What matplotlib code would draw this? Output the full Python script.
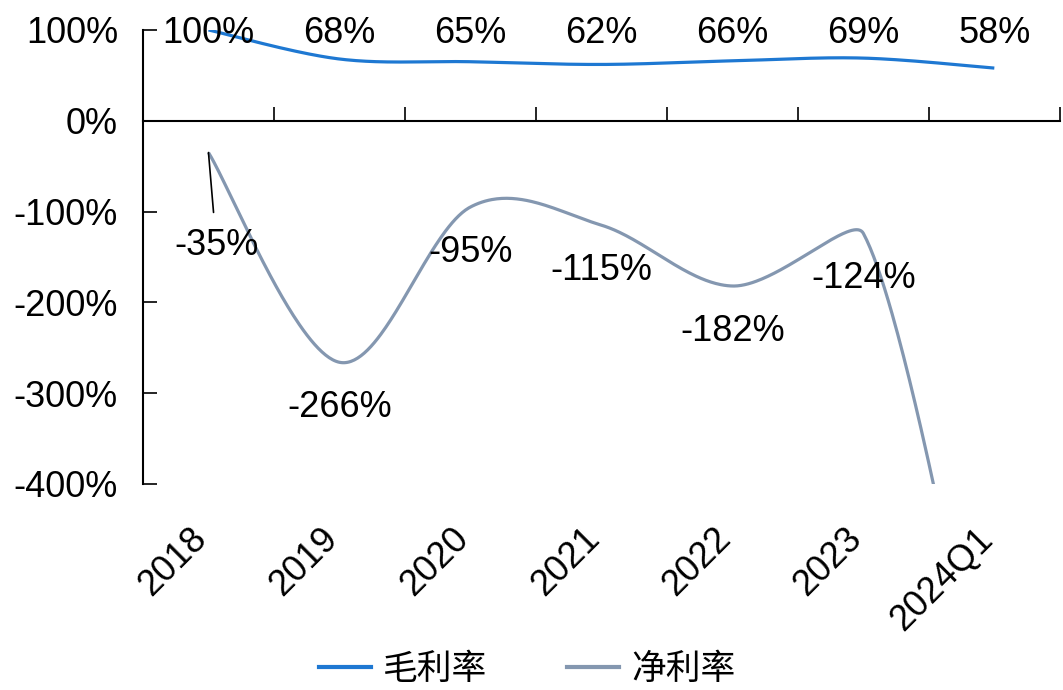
import numpy as np
import matplotlib
matplotlib.use("Agg")
import matplotlib.pyplot as plt
from matplotlib.transforms import blended_transform_factory, ScaledTranslation
from matplotlib.lines import Line2D

plt.rcParams['font.family'] = ['Liberation Sans', 'Noto Sans CJK SC', 'DejaVu Sans']

categories = ['2018', '2019', '2020', '2021', '2022', '2023', '2024Q1']
gross_margin = [100, 68, 65, 62, 66, 69, 58]
net_margin = [-35, -266, -95, -115, -182, -124, -720]
net_labels = ['-35%', '-266%', '-95%', '-115%', '-182%', '-124%', None]
series_names = ['毛利率', '净利率']

C_GROSS = '#1E78D2'
C_NET = '#8497B0'
FS = 26


def excel_smooth(ax, xs, ys, n=80):
    """Excel-style Bezier smoothing computed in display space."""
    pts = ax.transData.transform(np.column_stack([xs, ys]))
    P = np.vstack([pts[0], pts, pts[-1]])
    t = np.linspace(0, 1, n)[:, None]
    out = []
    for i in range(1, len(P) - 2):
        p0, p1, p2, p3 = P[i - 1], P[i], P[i + 1], P[i + 2]
        d12 = np.linalg.norm(p2 - p1)
        d02 = np.linalg.norm(p2 - p0)
        d13 = np.linalg.norm(p3 - p1)
        f0 = 1 / 6 if d02 / 6 < d12 / 2 else (d12 / d02) / 6
        f1 = 1 / 6 if d13 / 6 < d12 / 2 else (d12 / d13) / 6
        c1 = p1 + (p2 - p0) * f0
        c2 = p2 - (p3 - p1) * f1
        b = ((1 - t) ** 3 * p1 + 3 * (1 - t) ** 2 * t * c1
             + 3 * (1 - t) * t ** 2 * c2 + t ** 3 * p2)
        out.append(b)
    out = np.vstack(out)
    d = ax.transData.inverted().transform(out)
    return d[:, 0], d[:, 1]


fig = plt.figure(figsize=(10.63, 6.90), dpi=100)
ax = fig.add_axes([0.1345, 0.2986, 0.8625, 0.658])

x = np.arange(len(categories))
ax.set_xlim(-0.5, len(categories) - 0.5)
ax.set_ylim(-400, 100)

gx, gy = excel_smooth(ax, x, gross_margin)
nx, ny = excel_smooth(ax, x, net_margin)
ax.plot(gx, gy, color=C_GROSS, lw=2.3, solid_capstyle='butt')
ax.plot(nx, ny, color=C_NET, lw=2.3, solid_capstyle='butt')

yt = [100, 0, -100, -200, -300, -400]
ax.set_yticks(yt)
ax.set_yticklabels([f'{v}%' for v in yt], fontsize=FS)

for s in ['top', 'right']:
    ax.spines[s].set_visible(False)
ax.spines['bottom'].set_position(('data', 0))
ax.spines['left'].set_linewidth(1.5)
ax.spines['bottom'].set_linewidth(1.5)
ax.set_xticks(np.arange(len(categories) + 1) - 0.5)
ax.set_xticklabels([])
ax.tick_params(axis='x', direction='in', length=10, width=1.2)
ax.tick_params(axis='y', direction='in', length=10, width=1.2, pad=18)

# category labels at bottom
trans = blended_transform_factory(ax.transData, ax.transAxes) + \
    ScaledTranslation(-14 / 72, -4 / 72, fig.dpi_scale_trans)
for i, c in enumerate(categories):
    ax.text(i, -0.07, c, transform=trans, rotation=45, ha='right', va='top',
            rotation_mode='anchor', fontsize=FS)

# gross margin labels along the top
for i, v in enumerate(gross_margin):
    ax.text(i, 96, f'{v}%', ha='center', va='center', fontsize=FS)

# net margin labels
offsets = [-102, -50, -50, -50, -50, -50, 0]
for i, (v, lab) in enumerate(zip(net_margin, net_labels)):
    if lab is None:
        continue
    if i == 0:
        ax.annotate(lab, xy=(i, v), xytext=(i + 0.06, v + offsets[i]),
                    ha='center', va='center', fontsize=FS,
                    arrowprops=dict(arrowstyle='-', color='black', lw=1.2,
                                    shrinkA=9, shrinkB=0))
    else:
        ax.text(i, v + offsets[i], lab, ha='center', va='center', fontsize=FS)

handles = [Line2D([], [], color=C_GROSS, lw=3), Line2D([], [], color=C_NET, lw=3)]
fig.legend(handles, series_names, loc='lower center', bbox_to_anchor=(0.496, -0.036),
           ncol=2, frameon=False, handlelength=1.5, handletextpad=0.35,
           columnspacing=2.3, borderpad=0.3,
           prop={'family': ['Noto Sans CJK SC'], 'size': 25})

fig.savefig('out.png', dpi=100)
